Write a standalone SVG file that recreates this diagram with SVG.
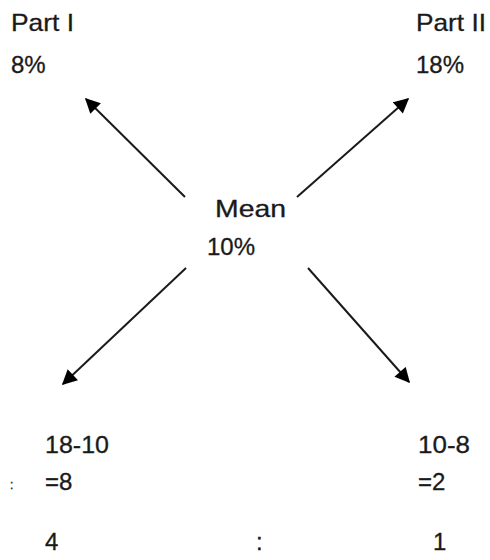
<svg xmlns="http://www.w3.org/2000/svg" width="490" height="560" viewBox="0 0 490 560">
<style>
text{font-family:"Liberation Sans",Arial,sans-serif;font-size:24px;fill:#1a1a1a;stroke:#1a1a1a;stroke-width:0.3}
.c{stroke:#1a1a1a;stroke-width:2;fill:none;marker-end:url(#ah)}
</style>
<defs>
<marker id="ah" viewBox="0 0 10 10" refX="9" refY="5" markerWidth="8" markerHeight="7.5" markerUnits="strokeWidth" orient="auto">
<path d="M0,0 L10,5 L0,10 z" fill="#000"/>
</marker>
</defs>
<rect width="490" height="560" fill="#fff"/>
<g id="connectors">
<line class="c" x1="185" y1="197" x2="86" y2="99"/>
<line class="c" x1="297" y1="197" x2="408" y2="99"/>
<line class="c" x1="186" y1="268" x2="63" y2="384"/>
<line class="c" x1="308" y1="268" x2="409" y2="382"/>
</g>
<g id="part1"><text x="11" y="31" textLength="63" lengthAdjust="spacingAndGlyphs">Part I</text><text x="11" y="73">8%</text></g>
<g id="part2"><text x="416" y="31" textLength="70" lengthAdjust="spacingAndGlyphs">Part II</text><text x="416" y="73">18%</text></g>
<g id="mean"><text x="215" y="217" textLength="71" lengthAdjust="spacingAndGlyphs">Mean</text><text x="207" y="255">10%</text></g>
<g id="left"><text x="45" y="453" textLength="64" lengthAdjust="spacingAndGlyphs">18-10</text><text x="45" y="490">=8</text><text x="10" y="489" style="font-size:12px">:</text><text x="45" y="550">4</text></g>
<g id="right"><text x="418" y="453" textLength="52" lengthAdjust="spacingAndGlyphs">10-8</text><text x="418" y="490">=2</text><text x="433" y="550">1</text></g>
<g id="colon"><text x="256" y="550">:</text></g>
</svg>
